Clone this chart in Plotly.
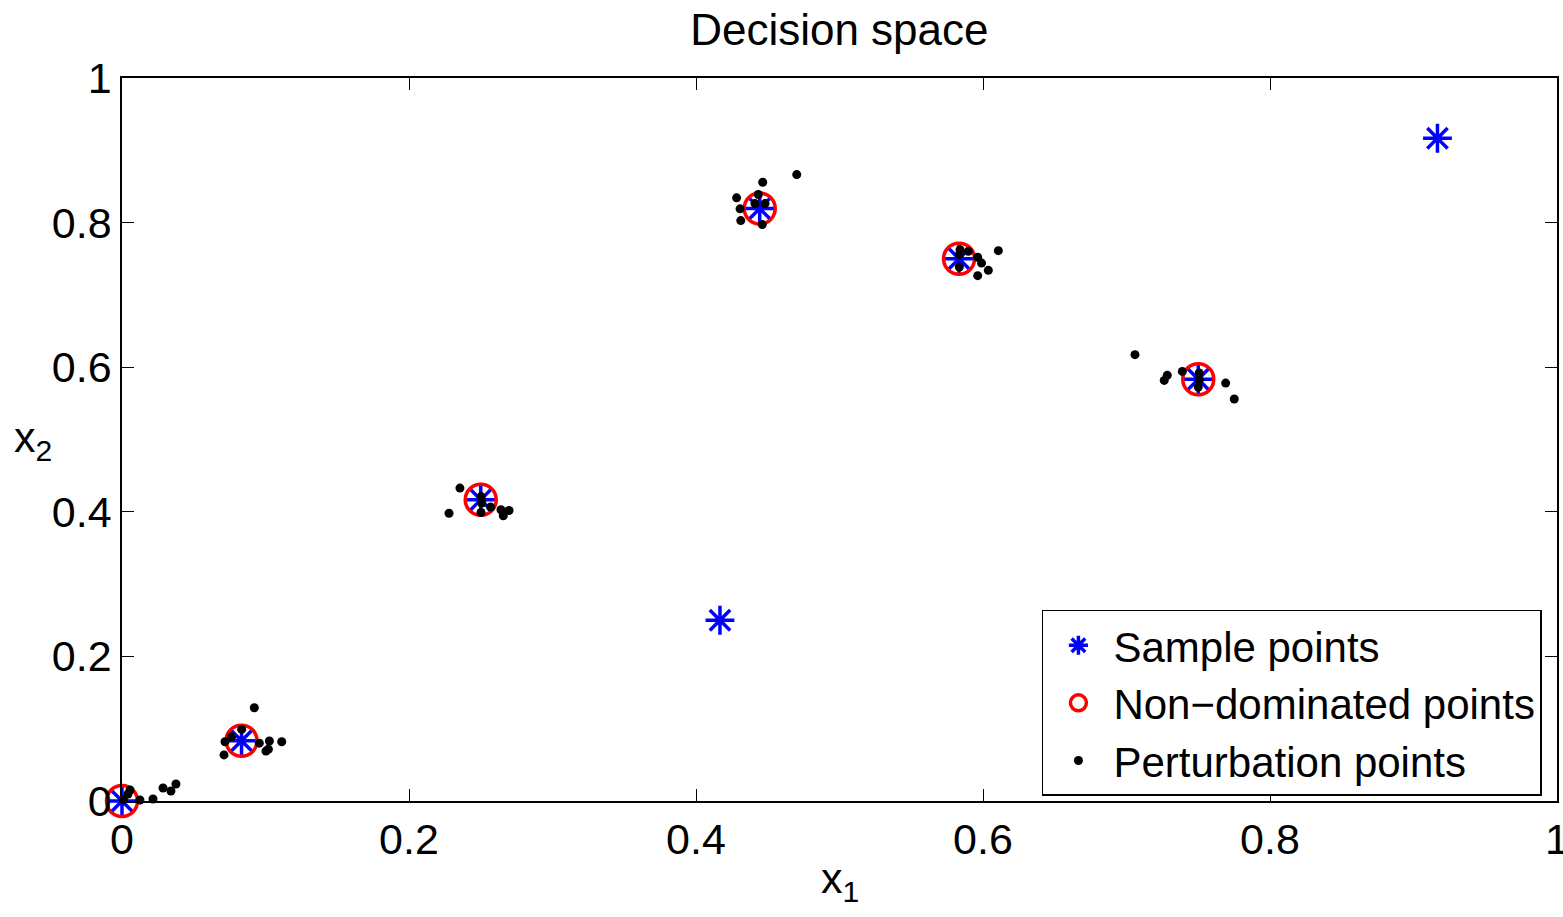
import plotly.graph_objects as go

# Sample points (blue asterisks)
sample_x = [0.0, 0.0833, 0.25, 0.4167, 0.4444, 0.5833, 0.75, 0.9167]
sample_y = [0.0, 0.0833, 0.4167, 0.25, 0.8194, 0.75, 0.5833, 0.9167]

# Non-dominated points (red circles)
nd_x = [0.0, 0.0833, 0.25, 0.4444, 0.5833, 0.75]
nd_y = [0.0, 0.0833, 0.4167, 0.8194, 0.75, 0.5833]

# Perturbation points (black dots)
pert_x = [0.0056, 0.0042, 0.0125, 0.0216, 0.0286, 0.0341, 0.0376, 0.001,
          0.0922, 0.0834, 0.0764, 0.0718, 0.0711, 0.0957, 0.1027, 0.1020, 0.1003, 0.1113,
          0.2355, 0.2279, 0.2502, 0.2507, 0.2502, 0.2569, 0.2641, 0.2657, 0.2697,
          0.4702, 0.4465, 0.4434, 0.4283, 0.4411, 0.4481, 0.4307, 0.4312, 0.4462,
          0.5840, 0.5898, 0.5835, 0.5963, 0.5990, 0.5835, 0.6037, 0.5963, 0.6107,
          0.7059, 0.7284, 0.7263, 0.7389, 0.7507, 0.7507, 0.7500, 0.7691, 0.7751]
pert_y = [0.0152, 0.0097, 0.0014, 0.0028, 0.0180, 0.0138, 0.0235, 0.002,
          0.1290, 0.0990, 0.0890, 0.0820, 0.0637, 0.0800, 0.0830, 0.0716, 0.0690, 0.0820,
          0.4328, 0.3980, 0.4210, 0.4120, 0.3990, 0.4065, 0.4028, 0.3945, 0.4018,
          0.8664, 0.8558, 0.8388, 0.8342, 0.8263, 0.8263, 0.8190, 0.8028, 0.7972,
          0.7626, 0.7603, 0.7557, 0.7520, 0.7440, 0.7386, 0.7340, 0.7266, 0.7612,
          0.6173, 0.5887, 0.5817, 0.5942, 0.5920, 0.5827, 0.5726, 0.5780, 0.5560]

tick_vals = [0, 0.2, 0.4, 0.6, 0.8, 1]
tick_text = ["0", "0.2", "0.4", "0.6", "0.8", "1"]

FONT = "Liberation Sans, Arial, Helvetica, sans-serif"

fig = go.Figure()
fig.add_trace(go.Scatter(
    x=sample_x, y=sample_y, mode="markers", name="Sample points", cliponaxis=False,
    marker=dict(symbol="asterisk-open", size=24, color="#0000ff",
                line=dict(color="#0000ff", width=3.5)),
))
fig.add_trace(go.Scatter(
    x=nd_x, y=nd_y, mode="markers", name="Non\u2212dominated points", cliponaxis=False,
    marker=dict(symbol="circle-open", size=31, color="#ff0000",
                line=dict(color="#ff0000", width=3.5)),
))
fig.add_trace(go.Scatter(
    x=pert_x, y=pert_y, mode="markers", name="Perturbation points", cliponaxis=False,
    marker=dict(symbol="circle", size=9, color="#000000"),
))

axis_common = dict(
    range=[0, 1], tickmode="array", tickvals=tick_vals, ticktext=tick_text,
    ticks="inside", ticklen=12, tickwidth=1, tickcolor="#000000",
    showline=True, linecolor="#000000", linewidth=1.5, mirror="ticks",
    showgrid=False, zeroline=False, ticklabeloverflow="allow", automargin=False,
    tickfont=dict(family=FONT, size=43, color="#000000"),
)

fig.update_layout(
    width=1563, height=917,
    margin=dict(l=122, r=6, t=78, b=116, autoexpand=False),
    paper_bgcolor="white", plot_bgcolor="white",
    title=dict(text="Decision space", x=0.537, xanchor="center", y=0.985, yanchor="top",
               font=dict(family=FONT, size=44, color="#000000")),
    xaxis=dict(**axis_common),
    yaxis=dict(**axis_common),
    showlegend=True,
    legend=dict(
        x=0.9895, xanchor="right", y=0.1356, yanchor="middle",
        bgcolor="white", bordercolor="#000000", borderwidth=1.5,
        font=dict(family=FONT, size=42, color="#000000"),
        tracegroupgap=0, itemsizing="trace", itemwidth=60,
    ),
    annotations=[
        dict(text="x<sub>1</sub>", x=0.5, xref="paper", y=-0.07, yref="paper",
             xanchor="center", yanchor="top", showarrow=False,
             font=dict(family=FONT, size=43, color="#000000")),
        dict(text="x<sub>2</sub>", x=-0.0767, xref="paper", y=0.5, yref="paper",
             xanchor="left", yanchor="middle", showarrow=False,
             font=dict(family=FONT, size=43, color="#000000")),
    ],
)

fig.write_html("out.html")
